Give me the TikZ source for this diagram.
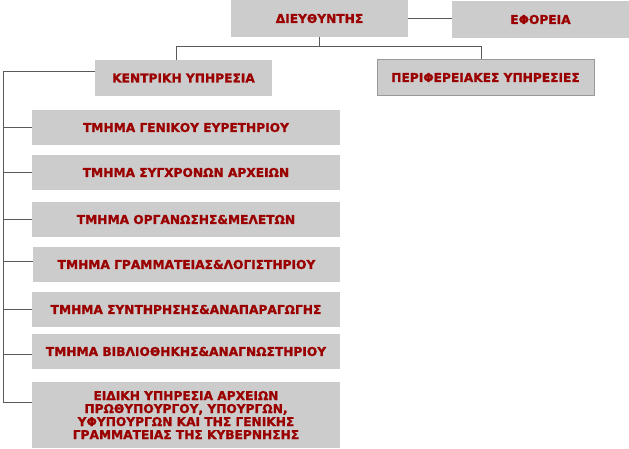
\documentclass[tikz,border=0pt]{standalone}
\usepackage{fontspec}
\setmainfont{DejaVu Sans}[BoldFeatures={FakeBold=1.2}]
\definecolor{penRed}{RGB}{155,0,0}
\colorlet{boxFill}{black!20}
\colorlet{lineColor}{black!65}
\tikzset{unit/.style={fill=boxFill,text=penRed,inner sep=0pt,align=center,
    font=\bfseries\fontsize{12.2}{13}\selectfont},
  link/.style={lineColor,line width=1pt}}
\begin{document}
\begin{tikzpicture}[x=1pt,y=-1pt]
      \useasboundingbox (0,0) rectangle (629,448);

      \node [unit,minimum width=177pt,minimum height=37pt] (dir) at (319.5,18.5) {ΔΙΕΥΘΥΝΤΗΣ};
      \node [unit,minimum width=177pt,minimum height=37pt] (efor) at (540.5,19.5) {ΕΦΟΡΕΙΑ};
      \node [unit,minimum width=177pt,minimum height=36pt] (kentr) at (183.5,78) {ΚΕΝΤΡΙΚΗ ΥΠΗΡΕΣΙΑ};
      \node [unit,draw=black!40,minimum width=217pt,minimum height=36pt] (perif) at (485.5,77.5) {ΠΕΡΙΦΕΡΕΙΑΚΕΣ ΥΠΗΡΕΣΙΕΣ};

      \node [unit,minimum width=308pt,minimum height=35pt] (genik) at (186,127.5) {ΤΜΗΜΑ ΓΕΝΙΚΟΥ ΕΥΡΕΤΗΡΙΟΥ};
      \node [unit,minimum width=308pt,minimum height=35pt] (sygx) at (186,172.5) {ΤΜΗΜΑ ΣΥΓΧΡΟΝΩΝ ΑΡΧΕΙΩΝ};
      \node [unit,minimum width=308pt,minimum height=35pt] (organ) at (186,219.5) {ΤΜΗΜΑ ΟΡΓΑΝΩΣΗΣ\&ΜΕΛΕΤΩΝ};
      \node [unit,minimum width=307pt,minimum height=35pt] (gramm) at (186.5,264.5) {ΤΜΗΜΑ ΓΡΑΜΜΑΤΕΙΑΣ\&ΛΟΓΙΣΤΗΡΙΟΥ};
      \node [unit,minimum width=308pt,minimum height=35pt] (synt) at (186,309.5) {ΤΜΗΜΑ ΣΥΝΤΗΡΗΣΗΣ\&ΑΝΑΠΑΡΑΓΩΓΗΣ};
      \node [unit,minimum width=308pt,minimum height=35pt] (bibl) at (186,351.5) {ΤΜΗΜΑ ΒΙΒΛΙΟΘΗΚΗΣ\&ΑΝΑΓΝΩΣΤΗΡΙΟΥ};
      \node [unit,minimum width=308pt,minimum height=66pt] (eidik) at (186,415) {ΕΙΔΙΚΗ ΥΠΗΡΕΣΙΑ ΑΡΧΕΙΩΝ\\ΠΡΩΘΥΠΟΥΡΓΟΥ, ΥΠΟΥΡΓΩΝ,\\ΥΦΥΠΟΥΡΓΩΝ ΚΑΙ ΤΗΣ ΓΕΝΙΚΗΣ\\ΓΡΑΜΜΑΤΕΙΑΣ ΤΗΣ ΚΥΒΕΡΝΗΣΗΣ};

      % top of the tree
      \draw [link] (dir.east) -- (dir.east -| efor.west);
      \draw [link] (dir.south) -- ++(0,9) coordinate (split);
      \draw [link] ([xshift=-7.5pt]kentr.north) |- (split) -| ([xshift=-4.5pt]perif.north);

      % left spine
      \coordinate (spine) at (3,71.5);
      \coordinate (spineEnd) at (3,402);
      \draw [link] ([yshift=6.5pt]kentr.west) -- (spine) -- (spineEnd) -- (spineEnd -| eidik.west);
      \draw [link] (spine |- genik.west) -- (genik.west);
      \draw [link] (spine |- sygx.west) -- (sygx.west);
      \draw [link] (spine |- organ.west) -- (organ.west);
      \draw [link] ([yshift=3pt]spine |- gramm.west) -- ([yshift=3pt]gramm.west);
      \draw [link] (spine |- synt.west) -- (synt.west);
      \draw [link] ([yshift=-2.5pt]spine |- bibl.west) -- ([yshift=-2.5pt]bibl.west);
\end{tikzpicture}
\end{document}
